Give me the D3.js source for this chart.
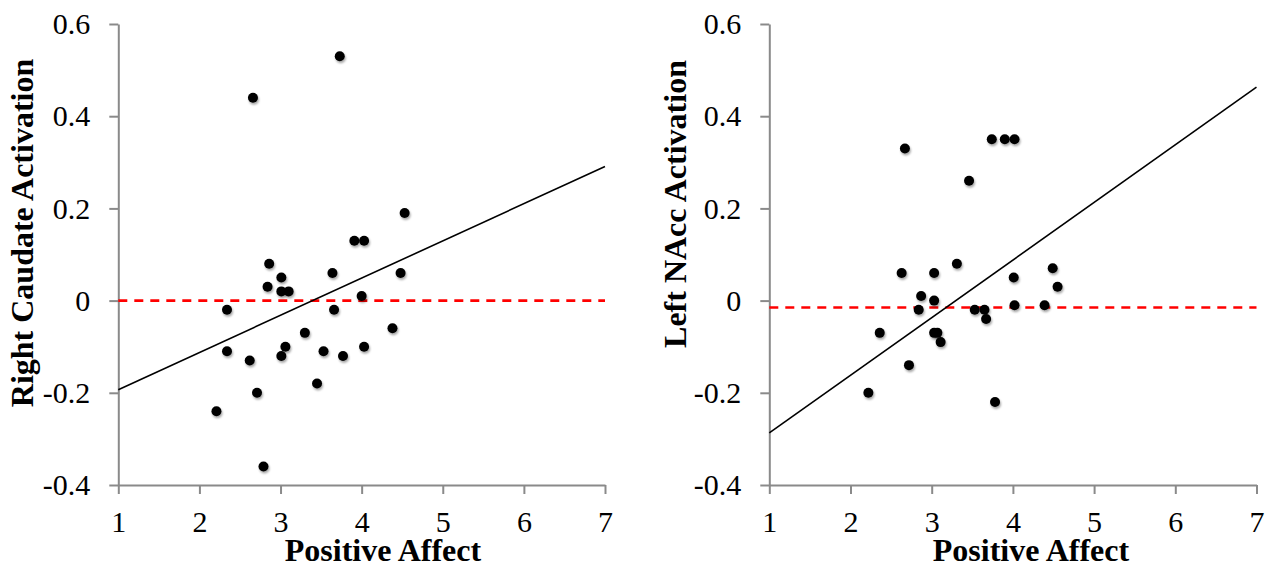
<!DOCTYPE html>
<html>
<head>
<meta charset="utf-8">
<script src="https://cdn.jsdelivr.net/npm/d3@7"></script>
<style>
  html, body { margin: 0; padding: 0; background: #fff; }
  svg { display: block; }
</style>
</head>
<body>
<svg id="chart" width="1272" height="568"></svg>
<script>
// ---------- data ----------
const xTicks = [1, 2, 3, 4, 5, 6, 7];
const yTicks = [-0.4, -0.2, 0, 0.2, 0.4, 0.6];
const yTickLabels = ["-0.4", "-0.2", "0", "0.2", "0.4", "0.6"];
const xLabel = "Positive Affect";
const yLabelLeft = "Right Caudate Activation";
const yLabelRight = "Left NAcc Activation";

const caudateX = [3.73, 2.66, 4.53, 3.91, 4.03, 2.86, 3.64, 4.48, 3.01, 2.84, 3.01, 3.10, 4.00, 2.34,
                  3.66, 3.30, 4.38, 2.34, 3.06, 3.01, 2.62, 3.53, 3.77, 4.03, 3.45, 2.71, 2.21, 2.79];
const caudateY = [0.53, 0.44, 0.19, 0.13, 0.13, 0.08, 0.06, 0.06, 0.05, 0.03, 0.02, 0.02, 0.01, -0.02,
                  -0.02, -0.07, -0.06, -0.11, -0.10, -0.12, -0.13, -0.11, -0.12, -0.10, -0.18, -0.20, -0.24, -0.36];

const naccX = [2.67, 3.74, 3.90, 4.02, 3.46, 2.63, 3.03, 3.31, 4.01, 4.49, 4.55, 2.87, 3.03, 2.84,
               3.53, 3.65, 3.67, 4.02, 4.39, 2.36, 3.03, 3.07, 3.11, 2.72, 2.22, 3.78];
const naccY = [0.33, 0.35, 0.35, 0.35, 0.26, 0.06, 0.06, 0.08, 0.05, 0.07, 0.03, 0.01, 0.00, -0.02,
               -0.02, -0.02, -0.04, -0.01, -0.01, -0.07, -0.07, -0.07, -0.09, -0.14, -0.20, -0.22];

// fitted trend lines (slope, intercept) and reference (dashed) levels
const caudateTrend = [0.0807, -0.274];
const naccTrend = [0.125, -0.412];
const caudateRef = 0;
const naccRef = -0.015;

// ---------- drawing ----------
const svg = d3.select("#chart");
const defs = svg.append("defs");
const f = defs.append("filter").attr("id", "shadow")
  .attr("x", "-50%").attr("y", "-50%").attr("width", "200%").attr("height", "200%");
f.append("feDropShadow").attr("dx", 1).attr("dy", 2).attr("stdDeviation", 1.3)
  .attr("flood-color", "#000").attr("flood-opacity", 0.35);

const AXIS = "#8a8a8a";
const FONT = "'Liberation Serif', 'Times New Roman', serif";

function panel(opts) {
  const { x0, x1, xs, ys, trend, ref, yLabel, yTitleX, yTitleY, xTitleX } = opts;
  const x = d3.scaleLinear().domain([1, 7]).range([x0, x1]);
  const y = d3.scaleLinear().domain([-0.4, 0.6]).range([485, 24]);
  const g = svg.append("g");

  // axes
  const ya = g.append("g").attr("transform", `translate(${x0},0)`)
    .call(d3.axisLeft(y).tickValues(yTicks).tickSize(9).tickSizeOuter(0).tickPadding(19)
      .tickFormat((d, i) => yTickLabels[i]));
  const xa = g.append("g").attr("transform", `translate(0,485)`)
    .call(d3.axisBottom(x).tickValues(xTicks).tickSize(9).tickSizeOuter(0).tickPadding(17)
      .tickFormat(d3.format("d")));
  [ya, xa].forEach(a => {
    a.select(".domain").attr("stroke", AXIS).attr("stroke-width", 2);
    a.selectAll(".tick line").attr("stroke", AXIS).attr("stroke-width", 2);
    a.selectAll(".tick text").attr("fill", "#000").style("font-family", FONT).style("font-size", "30px");
  });

  // reference dashed line
  g.append("line")
    .attr("x1", x(1)).attr("x2", x(7)).attr("y1", y(ref)).attr("y2", y(ref))
    .attr("stroke", "#ff0000").attr("stroke-width", 2.7).attr("stroke-dasharray", "9,7");

  // trend line
  g.append("line")
    .attr("x1", x(1)).attr("x2", x(7))
    .attr("y1", y(trend[0] * 1 + trend[1])).attr("y2", y(trend[0] * 7 + trend[1]))
    .attr("stroke", "#000").attr("stroke-width", 1.6);

  // points
  g.append("g").selectAll("circle").data(xs.map((v, i) => [v, ys[i]])).join("circle")
    .attr("cx", d => x(d[0])).attr("cy", d => y(d[1])).attr("r", 5)
    .attr("fill", "#000").attr("filter", "url(#shadow)");

  // titles
  g.append("text").attr("x", xTitleX).attr("y", 561).attr("text-anchor", "middle")
    .style("font-family", FONT).style("font-size", "32px").style("font-weight", "bold")
    .text(xLabel);
  g.append("text").attr("transform", `translate(${yTitleX},${yTitleY}) rotate(-90)`)
    .attr("text-anchor", "middle")
    .style("font-family", FONT).style("font-size", "32px").style("font-weight", "bold")
    .text(yLabel);
}

panel({ x0: 118.3, x1: 605, xs: caudateX, ys: caudateY, trend: caudateTrend, ref: caudateRef,
        yLabel: yLabelLeft, yTitleX: 33, yTitleY: 233, xTitleX: 383 });
panel({ x0: 769.3, x1: 1256.5, xs: naccX, ys: naccY, trend: naccTrend, ref: naccRef,
        yLabel: yLabelRight, yTitleX: 686, yTitleY: 204, xTitleX: 1031 });
</script>
</body>
</html>
